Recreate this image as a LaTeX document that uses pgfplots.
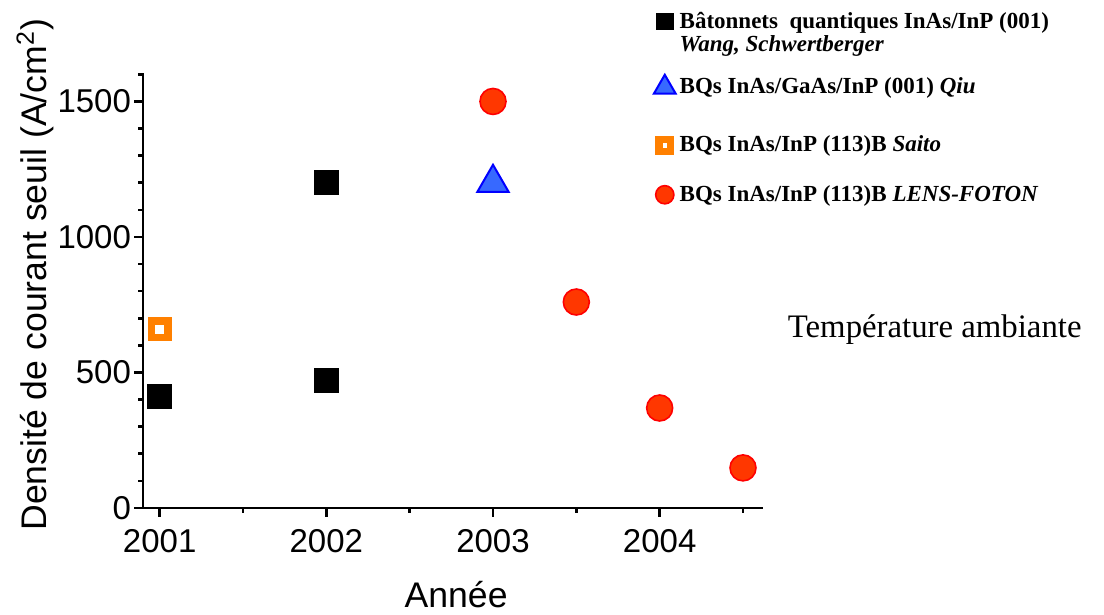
\documentclass[border=0pt]{standalone}
\usepackage{pgfplots}
\pgfplotsset{compat=1.18}
\usepackage{fontspec}
\setmainfont{Liberation Sans}
\newfontfamily\timesfont{Liberation Serif}
\definecolor{sqorange}{RGB}{255,128,0}
\definecolor{dotred}{RGB}{255,55,0}
\definecolor{triblue}{RGB}{55,105,255}
% legend mark with extra (invisible) room above it, to space the rows as in the original
\pgfplotsset{gap/.style={legend image code/.code={%
  \path[draw=none, fill=none] (0.3cm,0pt) -- (0.3cm,#1);
  \draw[mark repeat=2,mark phase=2,##1] plot coordinates {(0cm,0cm) (0.3cm,0cm) (0.6cm,0cm)};}}}

\begin{document}
\begin{tikzpicture}
\path (-71.5pt,-52.5pt) rectangle (480.5pt,254pt);
\begin{axis}[
  scale only axis,
  width=310pt, height=217.5pt,
  xmin=2000.9, xmax=2004.62,
  ymin=0, ymax=1605,
  axis x line*=bottom, axis y line*=left,
  x axis line style={-}, y axis line style={-},
  axis line style={line width=1.4pt},
  xtick={2001,2002,2003,2004},
  minor xtick={2001.5,2002.5,2003.5,2004.5},
  ytick={0,500,1000,1500},
  minor ytick={100,200,300,400,600,700,800,900,1100,1200,1300,1400,1600},
  tick align=outside,
  major tick length=4.5pt, minor tick length=2.5pt,
  tick style={line width=1.3pt, black},
  /pgf/number format/1000 sep={},
  /pgf/number format/assume math mode=true,
  tick label style={font=\fontsize{16.5}{18}\selectfont},
  xticklabel style={yshift=-2.5pt},
  yticklabel style={xshift=2pt},
  xlabel={Année},
  ylabel={Densité de courant seuil (A/cm\textsuperscript{2})},
  every axis x label/.style={at={(axis description cs:0.505,-0.2)}, anchor=center,
    font=\fontsize{17.8}{20}\selectfont},
  every axis y label/.style={at={(axis description cs:-0.174,0.536)}, rotate=90, anchor=center,
    font=\fontsize{17.8}{20}\selectfont},
  clip=false,
  legend style={at={(axis description cs:0.812,1.16)}, anchor=north west,
    draw=none, fill=none, row sep=-1.7pt,
    font=\timesfont\bfseries\fontsize{11.5}{13}\selectfont},
  legend cell align=left,
  legend image post style={scale=0.7},
]
\addplot[only marks, mark=square*, mark size=6pt, mark options={fill=black, draw=black}]
  coordinates {(2001,410) (2002,472) (2002,1200)};
\addlegendentry{Bâtonnets\ \ quantiques InAs/InP (001)}
\addlegendimage{empty legend}
\addlegendentry{\textit{Wang, Schwertberger}}
\addplot[only marks, mark=triangle*, mark size=9pt, mark options={fill=triblue, draw=blue, line width=1pt}, gap=23pt]
  coordinates {(2003,1200)};
\addlegendentry{BQs InAs/GaAs/InP (001) \textit{Qiu}}
\addplot[only marks, mark=square*, mark size=4.1pt, mark options={fill=white, draw=sqorange, line width=3.7pt}, gap=34.3pt]
  coordinates {(2001,660)};
\addlegendentry{BQs InAs/InP (113)B \textit{Saito}}
\addplot[only marks, mark=*, mark size=6.5pt, mark options={fill=dotred, draw=red, line width=0.8pt}, gap=28pt]
  coordinates {(2003,1500) (2003.5,760) (2004,369) (2004.5,148)};
\addlegendentry{BQs InAs/InP (113)B \textit{LENS-FOTON}}
\node[font=\timesfont\fontsize{16.4}{18}\selectfont, anchor=center] at (rel axis cs:1.277,0.409) {Température ambiante};
\end{axis}
\end{tikzpicture}
\end{document}
